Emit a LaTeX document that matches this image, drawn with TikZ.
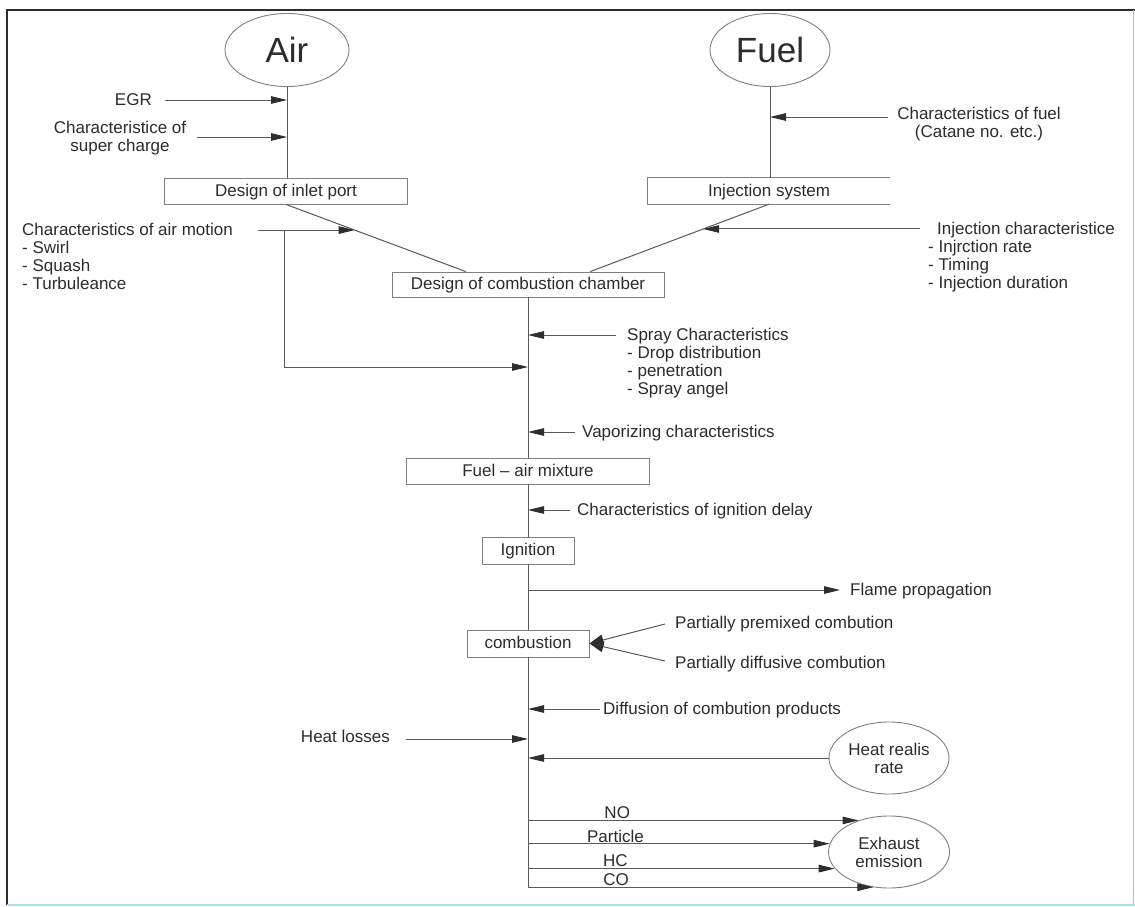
\documentclass[tikz,border=0pt]{standalone}
\usepackage{fontspec}
\setmainfont{Liberation Sans}
\usetikzlibrary{arrows.meta,shapes.geometric,calc}
\definecolor{txt}{HTML}{2C2C2C}
\definecolor{ln}{HTML}{5A5A5A}
\definecolor{bx}{HTML}{808080}
\definecolor{frm}{HTML}{2E2E2E}
\definecolor{cyanl}{HTML}{A6E2EA}
\begin{document}
\begin{tikzpicture}[x=1pt,y=-1pt,
  every node/.style={text=txt, font=\fontsize{17}{18}\selectfont},
  box/.style={draw=bx, line width=0.9pt, fill=white, inner sep=0pt, text height=13.5pt, text depth=3.5pt},
  boxline/.style={draw=bx, line width=0.9pt},
  oval/.style={ellipse, draw=bx, line width=0.9pt, inner sep=0pt, align=center},
  lbl/.style={inner sep=0pt, text height=13.5pt, text depth=3.5pt},
  mlbl/.style={inner sep=0pt, align=left, anchor=north west},
  con/.style={draw=ln, line width=1pt},
  arr/.style={con, -{Triangle[length=16pt,width=7.5pt,color=frm]}},
  bigarr/.style={con, -{Triangle[length=14pt,width=11pt,color=frm]}},
  big/.style={font=\fontsize{35}{40}\selectfont}
]
\useasboundingbox (0,0) rectangle (1135,907);
\fill[white] (0,0) rectangle (1135,907);
% frame
\draw[frm, line width=2.5pt] (7,905) -- (7,10) -- (1135,10);
\draw[cyanl, line width=2pt] (7,905) -- (1135,905);
\draw[black!25, line width=1pt] (1133,10) -- (1133,905);

% top ellipses
\node[oval, big, minimum width=124pt, minimum height=73pt] (air) at (287,50) {Air};
\node[oval, big, minimum width=120pt, minimum height=73pt] (fuel) at (770,50) {Fuel};

% boxes
\node[box, minimum width=243pt, minimum height=26pt] (inlet) at (286,191) {Design of inlet port};
\node[lbl, minimum width=242pt, minimum height=26pt] (inj) at (769,191) {Injection system};
\draw[boxline] (inj.north east) -- (inj.north west) -- (inj.south west) -- (inj.south east);
\node[box, minimum width=272pt, minimum height=25pt] (cc) at (528,284.5) {Design of combustion chamber};
\node[box, minimum width=243pt, minimum height=26pt] (fam) at (528,471) {Fuel -- air mixture};
\node[box, minimum width=92pt, minimum height=27pt] (ign) at (528,550.5) {Ignition};
\node[box, minimum width=122pt, minimum height=27pt] (comb) at (528,643.5) {combustion};
\node[oval, minimum width=120pt, minimum height=72pt] (hrr) at (889,758) {Heat realis\\rate};
\node[oval, minimum width=121pt, minimum height=72pt] (exh) at (889,852) {Exhaust\\emission};

% air branch
\draw[con] (air.south) -- (air.south |- inlet.north);
\node[lbl, anchor=east] (egr) at (152,100) {EGR};
\draw[arr] ($(egr.east)+(13,0)$) -- (egr.east -| air.south);
\node[align=center, inner sep=0pt] (sc) at (120,138) {Characteristice of\\super charge};
\draw[arr] ($(sc.east)+(11,-1)$) -- ($(sc.east -| air.south)+(0,-1)$);

% fuel branch
\draw[con] (fuel.south) -- (fuel.south |- inj.north);
\node[align=center, inner sep=0pt] (fc) at (979,124) {Characteristics of fuel\\(Catane no. etc.)};
\coordinate (fcs) at (888,117);
\draw[arr] (fcs) -- (fcs -| fuel.south);

% diagonals
\coordinate (d1e) at ($(cc.north west)!0.272!(cc.north east)$);
\coordinate (d2e) at ($(cc.north west)!0.728!(cc.north east)$);
\draw[con] (inlet.south) -- (d1e);
\draw[con] (inj.south) -- (d2e);

% air motion
\node[mlbl] (am) at (22,223) {Characteristics of air motion\\- Swirl\\- Squash\\- Turbuleance};
\coordinate (amtip) at ($(inlet.south)!0.382!(d1e)$);
\coordinate (ams) at (258,230);
\draw[arr] (ams |- amtip) -- (amtip);
\coordinate (amk) at (284,230);
\coordinate (amc) at (284,367);
\draw[arr] (amk |- amtip) -- (amc) -- (amc -| cc.south);

% injection characteristics
\node[mlbl] (ic) at (928,222) {\hspace*{9pt}Injection characteristice\\- Injrction rate\\- Timing\\- Injection duration};
\coordinate (ictip) at ($(inj.south)!0.368!(d2e)$);
\coordinate (ics) at (920,229);
\draw[arr] (ics |- ictip) -- (ictip);

% main vertical
\draw[con] (cc.south) -- (fam.north);
\draw[con] (fam.south) -- (ign.north);
\draw[con] (ign.south) -- (comb.north);
\draw[con] (comb.south) -- (exh.246 -| comb.south);

% spray
\node[mlbl] (sp) at (627,328) {Spray Characteristics\\- Drop distribution\\- penetration\\- Spray angel};
\coordinate (sps) at (616,335);
\draw[arr] (sps) -- (sps -| cc.south);

% vaporizing
\node[lbl, anchor=west] (vap) at (582,432) {Vaporizing characteristics};
\draw[arr] ($(vap.west)+(-7,0)$) -- (vap.west -| cc.south);

% ignition delay
\node[lbl, anchor=west] (igd) at (577,510) {Characteristics of ignition delay};
\draw[arr] ($(igd.west)+(-7,0)$) -- (igd.west -| cc.south);

% flame propagation
\node[lbl, anchor=west] (fl) at (850,590) {Flame propagation};
\draw[arr] (fl.west -| cc.south) -- ($(fl.west)+(-10,0)$);

% premixed / diffusive
\node[lbl, anchor=west] (pm) at (675,623) {Partially premixed combution};
\node[lbl, anchor=west] (pd) at (675,663) {Partially diffusive combution};
\draw[bigarr] ($(pm.west)+(-10,1)$) -- (comb.east);
\draw[bigarr] ($(pd.west)+(-10,-2)$) -- (comb.east);

% diffusion of products
\node[lbl, anchor=west] (dp) at (603,709) {Diffusion of combution products};
\draw[arr] ($(dp.west)+(-3,0)$) -- (dp.west -| cc.south);

% heat losses
\node[lbl, anchor=east] (hl) at (390,737) {Heat losses};
\coordinate (hls) at (406,739);
\draw[arr] (hls) -- (hls -| cc.south);

% heat release rate
\draw[arr] (hrr.west) -- (hrr.west -| cc.south);

% emissions
\draw[arr] (exh.134.8 -| cc.south) -- node[pos=0.27, above, inner sep=1pt] (lno) {NO} (exh.134.8);
\draw[arr] (exh.172.3 -| cc.south) -- node[pos=0.29, above, inner sep=1pt] (lpa) {Particle} (exh.172.3);
\draw[arr] (exh.197.7 -| cc.south) -- node[pos=0.285, above, inner sep=1pt] (lhc) {HC} (exh.197.7);
\draw[arr] (exh.246 -| cc.south) -- node[pos=0.255, above, inner sep=1pt] (lco) {CO} (exh.246);
\end{tikzpicture}
\end{document}
